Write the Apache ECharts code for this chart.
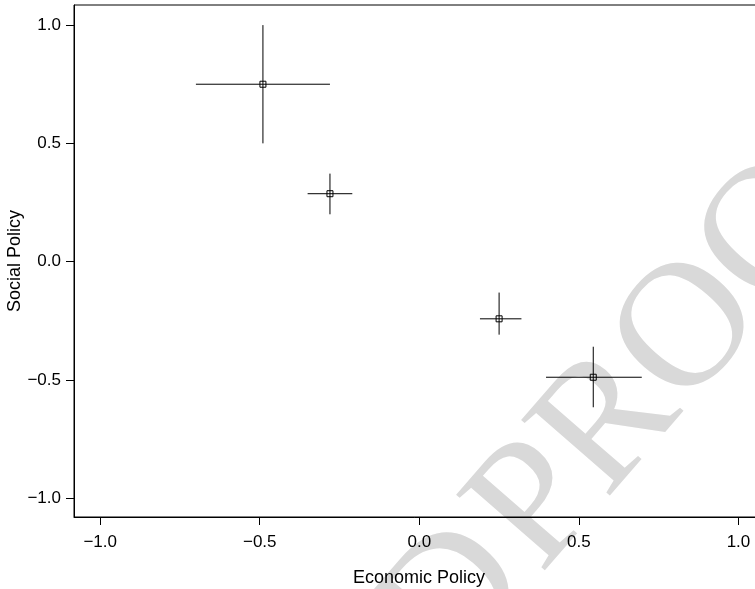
<!DOCTYPE html>
<html>
<head>
<meta charset="utf-8">
<script src="https://cdn.jsdelivr.net/npm/echarts@6/dist/echarts.min.js"></script>
<style>
  html, body { margin: 0; padding: 0; background: #fff; }
  #chart { width: 755px; height: 589px; }
</style>
</head>
<body>
<div id="chart"></div>
<script>
// party positions with uncertainty ranges on two policy dimensions
const econMean = [-0.49, -0.28, 0.25, 0.545];
const econLow = [-0.70, -0.35, 0.19, 0.397];
const econHigh = [-0.28, -0.21, 0.32, 0.697];
const socialMean = [0.75, 0.287, -0.242, -0.489];
const socialLow = [0.50, 0.20, -0.309, -0.616];
const socialHigh = [1.00, 0.372, -0.131, -0.36];
const tickValues = [-1.0, -0.5, 0.0, 0.5, 1.0];

const chart = echarts.init(document.getElementById("chart"), null, { renderer: "canvas" });

const fmt = (v) => (v < 0 ? "\u2212" : "") + Math.abs(v).toFixed(1);
const font = "'Liberation Sans', Arial, Helvetica, sans-serif";

const points = econMean.map((x, i) => [x, socialMean[i], econLow[i], econHigh[i], socialLow[i], socialHigh[i]]);

// watermark geometry (rotated text, reading up to the right)
const wmAngle = 49 * Math.PI / 180;
const ux = Math.cos(wmAngle), uy = -Math.sin(wmAngle);
const vx = -Math.sin(wmAngle), vy = -Math.cos(wmAngle);
const bx = 550, by = 583;
const mid = 59;
const wmFont = "178px 'Liberation Serif', 'Times New Roman', serif";

chart.setOption({
  animation: false,
  graphic: {
    elements: [
      {
        type: "text",
        z: -100,
        x: bx + mid * vx,
        y: by + mid * vy,
        rotation: wmAngle,
        style: { text: "PROOF", fill: "#d9d9d9", font: wmFont, align: "left", verticalAlign: "middle" },
      },
      {
        type: "text",
        z: -100,
        x: bx - 10 * ux + mid * vx,
        y: by - 10 * uy + mid * vy,
        rotation: wmAngle,
        style: { text: "UNCORRECTED", fill: "#d9d9d9", font: wmFont, align: "right", verticalAlign: "middle" },
      },
    ],
  },
  grid: {
    left: 74, right: -9, top: 5, bottom: 72,
    outerBoundsMode: "none",
    show: true, borderColor: "#000", borderWidth: 1, backgroundColor: "transparent",
  },
  xAxis: {
    type: "value",
    min: -1.082, max: 1.08,
    name: "Economic Policy",
    nameLocation: "middle",
    nameGap: 52,
    nameMoveOverlap: false,
    nameTextStyle: { color: "#000", fontSize: 18, fontFamily: font },
    splitLine: { show: false },
    axisLine: { show: true, onZero: false, lineStyle: { color: "#000", width: 1 } },
    axisTick: { show: true, length: 8, customValues: tickValues, lineStyle: { color: "#000" } },
    axisLabel: {
      customValues: tickValues, formatter: fmt, margin: 17,
      color: "#000", fontSize: 17, fontFamily: font,
    },
  },
  yAxis: {
    type: "value",
    min: -1.08, max: 1.085,
    name: "Social Policy",
    nameLocation: "middle",
    nameGap: 50,
    nameMoveOverlap: false,
    nameTextStyle: { color: "#000", fontSize: 18, fontFamily: font },
    splitLine: { show: false },
    axisLine: { show: true, onZero: false, lineStyle: { color: "#000", width: 1 } },
    axisTick: { show: true, length: 8, customValues: tickValues, lineStyle: { color: "#000" } },
    axisLabel: {
      customValues: tickValues, formatter: fmt, margin: 13,
      color: "#000", fontSize: 17, fontFamily: font,
    },
  },
  series: [
    {
      type: "custom",
      data: points,
      encode: { x: [0, 2, 3], y: [1, 4, 5] },
      renderItem: (params, api) => {
        const c = api.coord([api.value(0), api.value(1)]);
        const xl = api.coord([api.value(2), api.value(1)]);
        const xh = api.coord([api.value(3), api.value(1)]);
        const yl = api.coord([api.value(0), api.value(4)]);
        const yh = api.coord([api.value(0), api.value(5)]);
        const stroke = { stroke: "#000", lineWidth: 1 };
        const s = 6;
        return {
          type: "group",
          children: [
            { type: "line", shape: { x1: xl[0], y1: c[1], x2: xh[0], y2: c[1] }, style: stroke },
            { type: "line", shape: { x1: c[0], y1: yl[1], x2: c[0], y2: yh[1] }, style: stroke },
            { type: "rect", shape: { x: c[0] - s / 2, y: c[1] - s / 2, width: s, height: s }, style: { stroke: "#000", lineWidth: 1, fill: null } },
          ],
        };
      },
    },
  ],
});
</script>
</body>
</html>
